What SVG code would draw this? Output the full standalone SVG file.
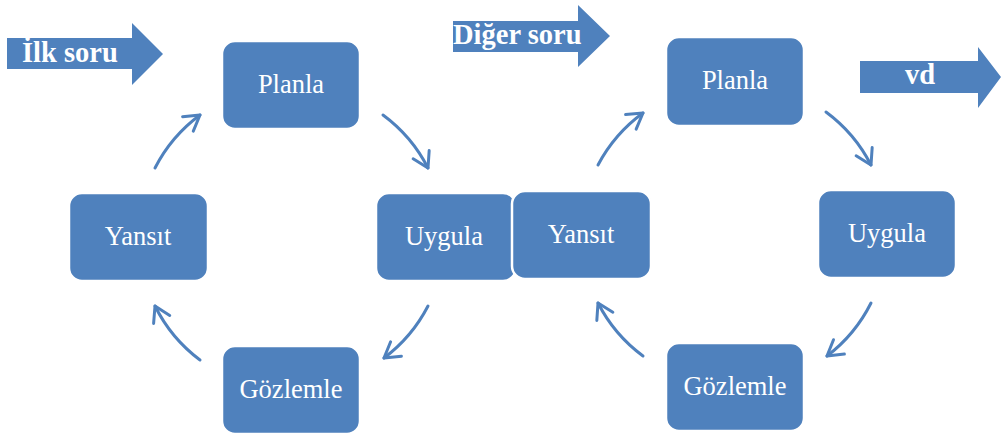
<svg xmlns="http://www.w3.org/2000/svg" width="1002" height="434" viewBox="0 0 1002 434">
  <style>
    .box { fill: #4F81BD; stroke: #FFFFFF; stroke-width: 2.5; }
    .lbl { font-family: "Liberation Serif", "Times New Roman", serif; font-size: 26.5px; fill: #FFFFFF; text-anchor: middle; }
    .big { fill: #4F81BD; }
    .btxt { font-family: "Liberation Serif", "Times New Roman", serif; font-size: 28.5px; font-weight: bold; fill: #FFFFFF; }
    .arc { fill: none; stroke: #4F81BD; stroke-width: 3; stroke-linecap: round; marker-end: url(#head); }
  </style>
  <defs>
    <marker id="head" markerUnits="userSpaceOnUse" markerWidth="26" markerHeight="26" viewBox="-20 -13 26 26" refX="0" refY="0" orient="auto">
      <path d="M -15 -9 L 0 0 L -15 9" fill="none" stroke="#4F81BD" stroke-width="3" stroke-linecap="round" stroke-linejoin="round"/>
    </marker>
  </defs>
  <rect width="1002" height="434" fill="#FFFFFF"/>

  <!-- block arrows -->
  <g id="ilk-soru">
    <polygon class="big" points="7,38 132,38 132,23 163,54 132,85 132,69 7,69"/>
    <text class="btxt" x="22" y="62">İlk soru</text>
  </g>
  <g id="diger-soru">
    <polygon class="big" points="453,21 578,21 578,5 610,36 578,67 578,52 453,52"/>
    <text class="btxt" x="453" y="44">Diğer soru</text>
  </g>
  <g id="vd">
    <polygon class="big" points="860,61 978,61 978,47 1001,77 978,108 978,93 860,93"/>
    <text class="btxt" x="905" y="84">vd</text>
  </g>

  <!-- connectors -->
  <g id="connectors">
    <path class="arc" d="M 155 168 A 152 152 0 0 1 200 115"/>
    <path class="arc" d="M 383 115 A 152 152 0 0 1 428 168"/>
    <path class="arc" d="M 428 306 A 152 152 0 0 1 384 358"/>
    <path class="arc" d="M 200 360 A 152 152 0 0 1 155 306"/>
    <path class="arc" d="M 598 165 A 152 152 0 0 1 643 113"/>
    <path class="arc" d="M 826 112 A 152 152 0 0 1 871 165"/>
    <path class="arc" d="M 871 303 A 152 152 0 0 1 827 356"/>
    <path class="arc" d="M 643 356 A 152 152 0 0 1 598 303"/>
  </g>

  <!-- first cycle -->
  <g id="planla-1">
    <rect class="box" x="222" y="41" width="138" height="88" rx="13"/>
    <text class="lbl" x="291" y="93">Planla</text>
  </g>
  <g id="uygula-1">
    <rect class="box" x="376" y="193" width="140" height="88" rx="13"/>
    <text class="lbl" x="444" y="245">Uygula</text>
  </g>
  <g id="gozlemle-1">
    <rect class="box" x="222" y="346" width="138" height="88" rx="13"/>
    <text class="lbl" x="291" y="398">Gözlemle</text>
  </g>
  <g id="yansit-1">
    <rect class="box" x="69" y="193" width="139" height="88" rx="13"/>
    <text class="lbl" x="138" y="245">Yansıt</text>
  </g>

  <!-- second cycle -->
  <g id="yansit-2">
    <rect class="box" x="512" y="191" width="139" height="88" rx="13"/>
    <text class="lbl" x="581" y="243">Yansıt</text>
  </g>
  <g id="planla-2">
    <rect class="box" x="666" y="37" width="138" height="89" rx="13"/>
    <text class="lbl" x="735" y="89">Planla</text>
  </g>
  <g id="uygula-2">
    <rect class="box" x="818" y="190" width="138" height="88" rx="13"/>
    <text class="lbl" x="887" y="242">Uygula</text>
  </g>
  <g id="gozlemle-2">
    <rect class="box" x="666" y="343" width="138" height="88" rx="13"/>
    <text class="lbl" x="735" y="395">Gözlemle</text>
  </g>
</svg>
